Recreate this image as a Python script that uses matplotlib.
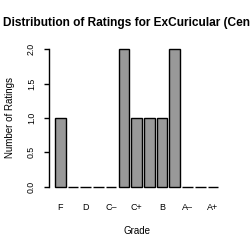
import numpy as np
import matplotlib
matplotlib.use('Agg')
import matplotlib.pyplot as plt

plt.rcParams['font.family'] = ['Liberation Sans', 'DejaVu Sans']

grades = ['F', 'D-', 'D', 'D+', 'C-', 'C', 'C+', 'B-', 'B', 'B+', 'A-', 'A', 'A+']
counts = [1, 0, 0, 0, 0, 2, 1, 1, 1, 2, 0, 0, 0]
shown_labels = ['F', 'D', 'C\u2013', 'C+', 'B', 'A\u2013', 'A+']

# the title runs past the right edge of the figure, as in the original
title = 'Distribution of Ratings for ExCuricular (Center)'

# R barplot geometry: width 1, space 0.2
x = 0.2 + 1.2 * np.arange(len(grades)) + 0.5

fig = plt.figure(figsize=(2.5, 2.5), dpi=100)
ax = fig.add_axes([0.194, 0.2312, 0.705, 0.5936])

ax.bar(x, counts, width=1.0, color='#999999', edgecolor='black', linewidth=1.0)

span = 15.4
ax.set_xlim(0.2 - 0.04 * span, 15.6 + 0.04 * span)
ax.set_ylim(-0.08, 2.08)

for s in ['top', 'right', 'bottom']:
    ax.spines[s].set_visible(False)
ax.spines['left'].set_bounds(0, 2)
ax.spines['left'].set_linewidth(1.0)

ax.set_yticks(np.arange(0, 2.01, 0.5))
ax.set_yticklabels(['%.1f' % v for v in np.arange(0, 2.01, 0.5)],
                   rotation=90, va='center', fontsize=6.3)
ax.tick_params(axis='y', length=3.6, width=1.0, pad=5.5)

ax.set_xticks(x[::2])
ax.set_xticklabels(shown_labels, fontsize=6.5)
ax.tick_params(axis='x', length=0, pad=8)

ax.set_xlabel('Grade', fontsize=7, labelpad=10)
ax.set_ylabel('Number of Ratings', fontsize=7, labelpad=8.5)

fig.text(0.012, 0.907, title, ha='left', va='center',
         fontsize=8.6, fontweight='bold')

plt.savefig('out.png', dpi=100)
